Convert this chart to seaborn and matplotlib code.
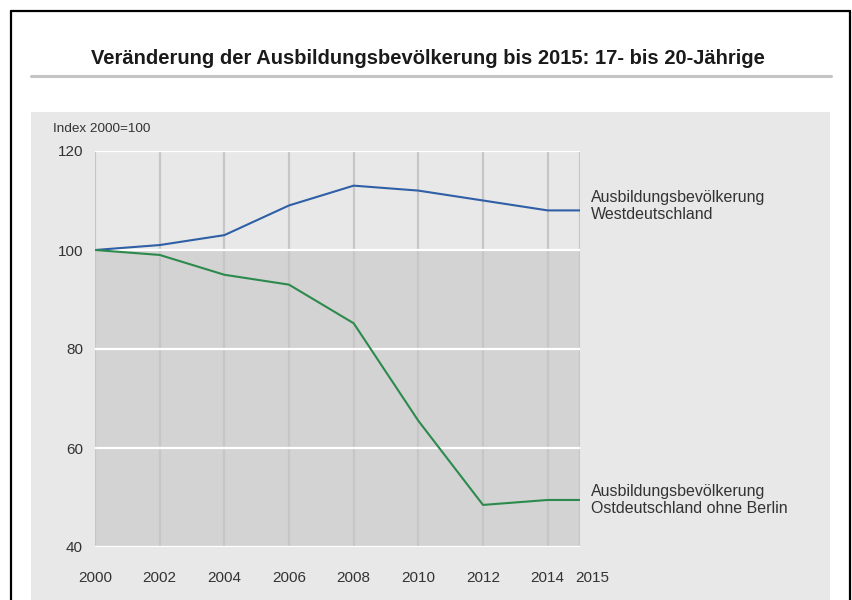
import matplotlib
matplotlib.use("Agg")
import matplotlib.pyplot as plt
import matplotlib.transforms as mtransforms
import seaborn as sns
import pandas as pd
from matplotlib.lines import Line2D
from matplotlib.patches import Rectangle

years = [2000, 2002, 2004, 2006, 2008, 2010, 2012, 2014, 2015]
west = [100, 101, 103, 109, 113, 112, 110, 108, 108]
east = [100, 99, 95, 93, 85.2, 65.5, 48.5, 49.5, 49.5]
series_names = ["West", "Ost"]
labels = ["Ausbildungsbevölkerung\nWestdeutschland",
          "Ausbildungsbevölkerung\nOstdeutschland ohne Berlin"]
yticks = [40, 60, 80, 100, 120]

df = pd.DataFrame({
    "Jahr": years * 2,
    "Index": west + east,
    "Region": [series_names[0]] * len(years) + [series_names[1]] * len(years),
})

sns.set_style("white")
plt.rcParams["font.family"] = ["Liberation Sans", "DejaVu Sans"]

W, H = 852, 600
fig = plt.figure(figsize=(W / 100, H / 100), dpi=100)

def fx(px):
    return px / W

def fy(py):
    return 1 - py / H

# Rahmen, Panel, Titellinie
fig.add_artist(Rectangle((fx(31), fy(600)), fx(830) - fx(31), fy(112) - fy(600),
                         transform=fig.transFigure, color="#e8e8e8", lw=0, zorder=0))
for xs, ys in [([11, 11], [11, 600]), ([11, 850], [11, 11]), ([850, 850], [11, 600])]:
    fig.add_artist(Line2D([fx(x) for x in xs], [fy(y) for y in ys],
                          transform=fig.transFigure, color="black", lw=1.6))
fig.add_artist(Line2D([fx(31), fx(831)], [fy(75.5), fy(75.5)],
                      transform=fig.transFigure, color="#c4c4c4", lw=2.2))
fig.text(fx(428), fy(58), "Veränderung der Ausbildungsbevölkerung bis 2015: 17- bis 20-Jährige",
         ha="center", va="center", fontsize=14.5, fontweight="bold", color="#1a1a1a")

ax = fig.add_axes([fx(95), fy(547), fx(580) - fx(95), fy(151) - fy(547)])
ax.set_facecolor("none")
ax.axhspan(40, 100, xmin=0, xmax=1, color="#d3d3d3", lw=0, zorder=0.2)

sns.lineplot(data=df, x="Jahr", y="Index", hue="Region",
             palette={"West": "#2f5fa6", "Ost": "#2c8a4c"},
             linewidth=1.5, legend=False, ax=ax, zorder=3)

ax.set_xlim(2000, 2015)
ax.set_ylim(40, 120)
ax.set_xticks(years)
ax.set_yticks(yticks)
ax.set_axisbelow(True)
ax.grid(axis="x", color="#c6c6c6", lw=1.6)
ax.grid(axis="y", color="white", lw=1.6)
for s in ax.spines.values():
    s.set_visible(False)
ax.tick_params(axis="x", length=11, width=1.6, color="#c6c6c6", pad=6,
               labelsize=11, labelcolor="#333333")
ax.tick_params(axis="y", length=0, pad=8.6, labelsize=11, labelcolor="#333333")
ax.set_xlabel("")
ax.set_ylabel("")

# 2015 steht rechts neben dem Strich, damit es nicht mit 2014 kollidiert
last = ax.get_xticklabels()[-1]
last.set_horizontalalignment("left")
last.set_transform(last.get_transform() +
                   mtransforms.ScaledTranslation(-5 / 100, 0, fig.dpi_scale_trans))

ax.text(-0.087, 1.055, "Index 2000=100", transform=ax.transAxes, ha="left", va="center",
        fontsize=9.7, color="#333333")
ax.annotate(labels[0], xy=(1, west[-1]), xycoords=("axes fraction", "data"),
            xytext=(8, 3), textcoords="offset points", ha="left", va="center",
            fontsize=11.5, color="#333333", linespacing=1.2)
ax.annotate(labels[1], xy=(1, east[-1]), xycoords=("axes fraction", "data"),
            xytext=(8, 0), textcoords="offset points", ha="left", va="center",
            fontsize=11.5, color="#333333", linespacing=1.2)

fig.savefig("out.png", dpi=100, facecolor="white")
